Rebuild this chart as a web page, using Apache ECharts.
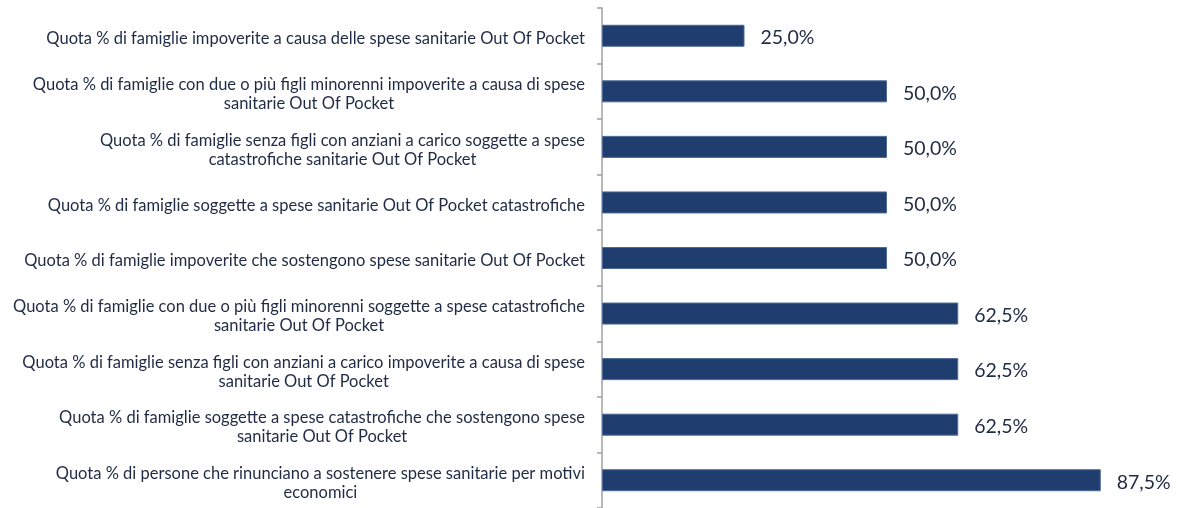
<!DOCTYPE html>
<html>
<head>
<meta charset="utf-8">
<script src="https://cdn.jsdelivr.net/npm/echarts@6/dist/echarts.min.js"></script>
<style>
  html, body { margin: 0; padding: 0; background: #fff; }
  #chart { width: 1187px; height: 508px; }
</style>
</head>
<body>
<div id="chart"></div>
<script>
// categories, top to bottom
const categories = [
  'Quota % di famiglie impoverite a causa delle spese sanitarie Out Of Pocket',
  'Quota % di famiglie con due o più figli minorenni impoverite a causa di spese\nsanitarie Out Of Pocket',
  'Quota % di famiglie senza figli con anziani a carico soggette a spese\ncatastrofiche sanitarie Out Of Pocket',
  'Quota % di famiglie soggette a spese sanitarie Out Of Pocket catastrofiche',
  'Quota % di famiglie impoverite che sostengono spese sanitarie Out Of Pocket',
  'Quota % di famiglie con due o più figli minorenni soggette a spese catastrofiche\nsanitarie Out Of Pocket',
  'Quota % di famiglie senza figli con anziani a carico impoverite a causa di spese\nsanitarie Out Of Pocket',
  'Quota % di famiglie soggette a spese catastrofiche che sostengono spese\nsanitarie Out Of Pocket',
  'Quota % di persone che rinunciano a sostenere spese sanitarie per motivi\neconomici'
];
const values = [25.0, 50.0, 50.0, 50.0, 50.0, 62.5, 62.5, 62.5, 87.5];

const textColor = '#1f2a44';
const chart = echarts.init(document.getElementById('chart'));

const option = {
  animation: false,
  textStyle: { fontFamily: 'Lato' },
  grid: { left: 602, top: 8, width: 570, height: 504, containLabel: false },
  xAxis: {
    type: 'value',
    min: 0,
    max: 100,
    show: false
  },
  yAxis: {
    type: 'category',
    inverse: true,
    data: categories,
    axisLine: { show: true, lineStyle: { color: '#a0a0a0', width: 1.5 } },
    axisTick: { show: true, length: 5, lineStyle: { color: '#a0a0a0', width: 1.5 } },
    axisLabel: {
      margin: 17,
      align: 'right',
      color: textColor,
      fontSize: 16.5,
      lineHeight: 19,
      padding: [6, 0, 0, 0],
      formatter: (v) => v.split('\n').map(l => '{c|' + l + '}').join('\n'),
      rich: {
        c: { align: 'center', fontSize: 16.5, lineHeight: 19, color: textColor, fontFamily: 'Lato' }
      }
    }
  },
  series: [{
    type: 'bar',
    data: values,
    barWidth: 22,
    itemStyle: { color: '#1f3d6f', borderColor: '#4d6a96', borderWidth: 1 },
    label: {
      show: true,
      position: 'right',
      distance: 16,
      offset: [0, 2],
      color: textColor,
      fontSize: 19.5,
      fontFamily: 'Lato',
      formatter: (p) => p.value.toFixed(1).replace('.', ',') + '%'
    }
  }]
};

chart.setOption(option);
</script>
</body>
</html>
